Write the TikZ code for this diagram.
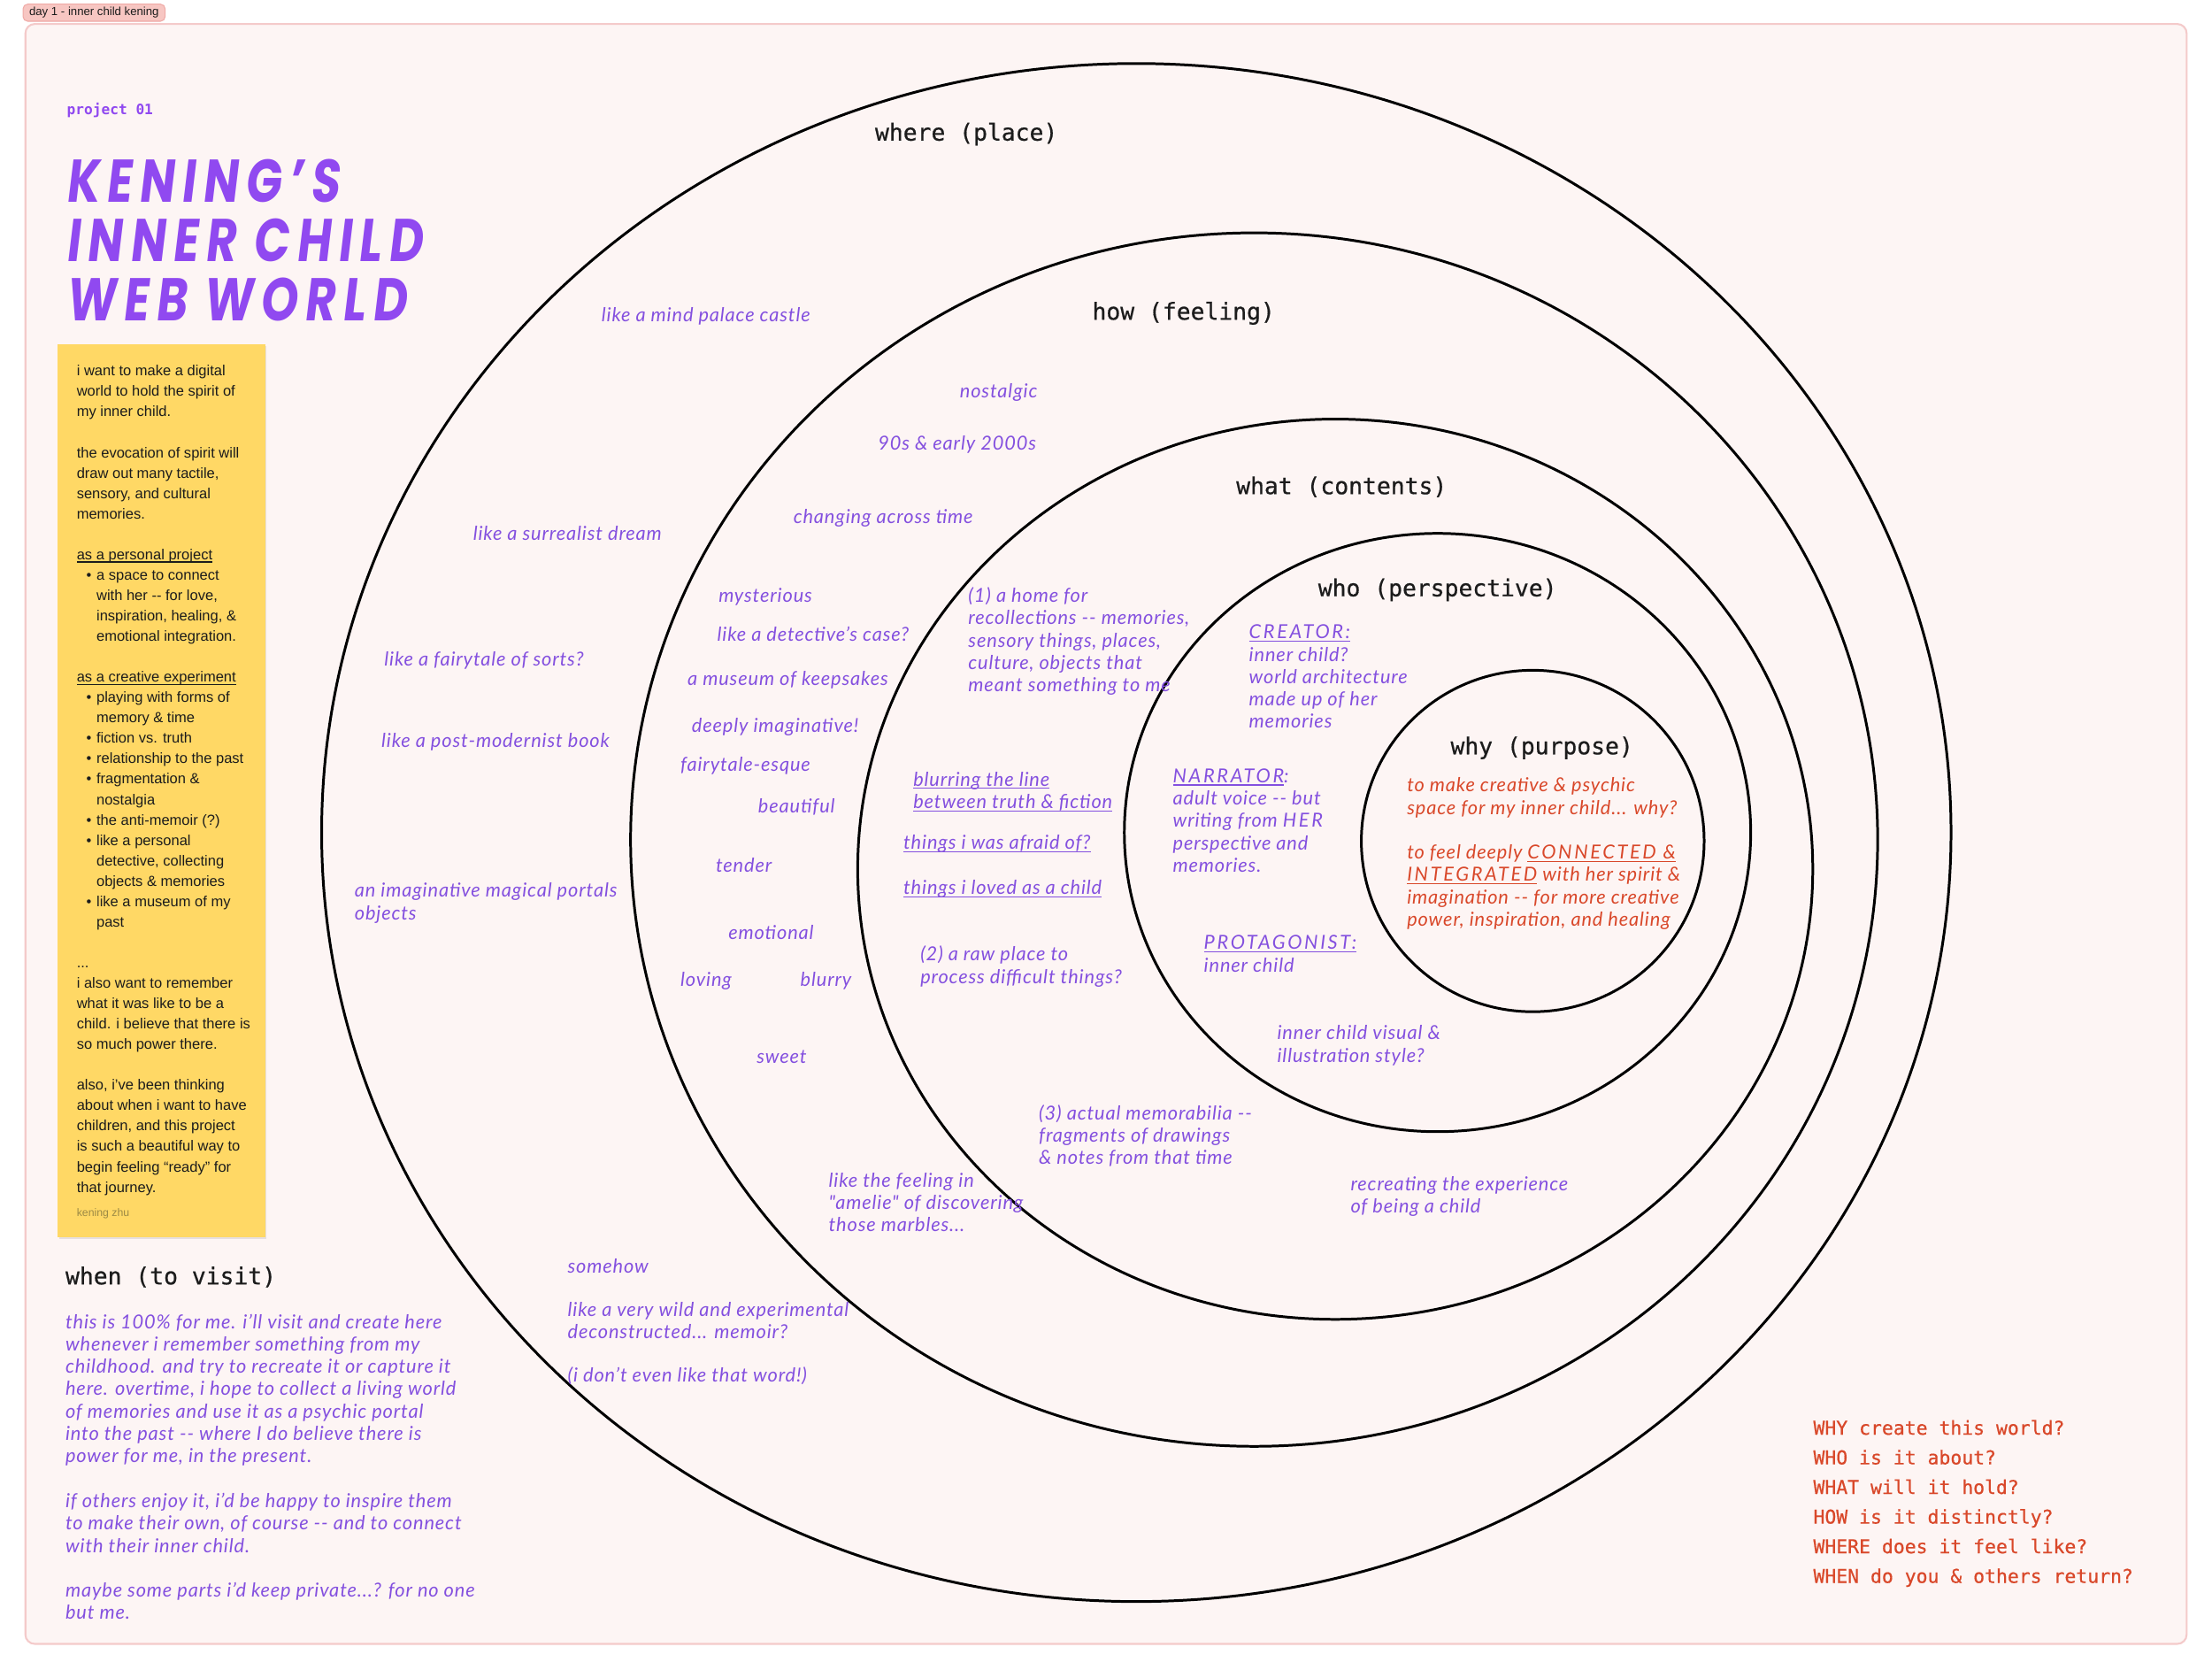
\documentclass[tikz,border=0pt]{standalone}
\usepackage{fontspec}
\usetikzlibrary{shadows}
\setmainfont{Liberation Sans}
\newfontfamily\handf{Lato}[LetterSpace=4]
\newfontfamily\monof{DejaVu Sans Mono}
\newfontfamily\monobf{DejaVu Sans Mono}[FakeBold=0.6]
\newfontfamily\titlef{Poppins}[FakeStretch=0.78, FakeSlant=0.12, LetterSpace=12]
\definecolor{bgc}{HTML}{FDF5F4}
\definecolor{framec}{HTML}{F4CACA}
\definecolor{tagc}{HTML}{F7C6C2}
\definecolor{tagb}{HTML}{EFAAA6}
\definecolor{stickyc}{HTML}{FFD865}
\definecolor{purp}{HTML}{8450DF}
\definecolor{titlep}{HTML}{9049F0}
\definecolor{redo}{HTML}{D9482A}
\definecolor{inkc}{HTML}{1C1C1C}
\definecolor{signc}{HTML}{9C8A45}
\newcommand\myul[1]{\setbox0=\hbox{#1}\rlap{\rule[-0.9pt]{\wd0}{0.3pt}}\box0\relax}
\newcommand\caps[1]{{\addfontfeature{LetterSpace=12}#1}}
\newcommand\bul{\makebox[6.35pt][l]{\hspace*{3.1pt}•}}
\newcommand\cont{\hspace*{6.35pt}}
\tikzset{
  hw/.style={font={\handf\itshape\fontsize{6.2}{7.2}\selectfont}, text=purp, anchor=west, align=left, inner sep=0pt},
  hwr/.style={hw, text=redo},
  head/.style={font={\monobf\fontsize{7.5}{9}\selectfont}, text=inkc, inner sep=0pt},
  ring/.style={line width=0.85pt, draw=black},
}
\begin{document}
\begin{tikzpicture}[x=0.15944mm, y=-0.15944mm]
\useasboundingbox (0,0) rectangle (1568,1183);
\fill[white] (0,0) rectangle (1568,1183);
% tag
\node[fill=tagc, draw=tagb, line width=0.3pt, rounded corners=1.5pt, inner xsep=2pt, inner ysep=1pt, anchor=west, font={\fontsize{3.75}{4.5}\selectfont}, text=inkc] (tag) at (16,9) {day 1 - inner child kening};
% frame
\draw[draw=framec, fill=bgc, line width=0.6pt, rounded corners=3pt] (18,17) rectangle (1550,1165);
% rings
\draw[ring] (805.5,590) ellipse [x radius=577.5, y radius=545];
\draw[ring] (889,595) ellipse [x radius=442, y radius=430];
\draw[ring] (946.5,616) ellipse [x radius=338.5, y radius=319];
\draw[ring] (1019,590) ellipse [x radius=222, y radius=212];
\draw[ring] (1086.5,596) ellipse [x radius=121.5, y radius=121];
% headings
\node[head] (hwhere) at (685,95) {where (place)};
\node[head] (hhow) at (839,222) {how (feeling)};
\node[head] (hwhat) at (951,345) {what (contents)};
\node[head] (hwho) at (1019,418) {who (perspective)};
\node[head] (hwhy) at (1093,530) {why (purpose)};
\node[head, anchor=west] (hwhen) at (46,905) {when (to visit)};
% project + title
\node[anchor=west, inner sep=0pt, text=titlep, font={\monof\bfseries\fontsize{4.6}{5.5}\selectfont}] (proj) at (47,78) {project 01};
\node[anchor=west, align=left, inner sep=0pt, text=titlep, font={\titlef\bfseries\fontsize{19.4}{19.06}\selectfont}] (title) at (46,170) {KENING’S\\INNER CHILD\\WEB WORLD};
% sticky note
\fill[stickyc, drop shadow={opacity=0.18, shadow xshift=0.4pt, shadow yshift=-0.6pt}] (41,244) rectangle (188,877);
\node[anchor=west, align=left, inner sep=0pt, text=inkc, font={\fontsize{4.7}{6.56}\selectfont}] (sticky) at (54,553) {i want to make a digital\\
world to hold the spirit of\\
my inner child.\\[6.56pt]
the evocation of spirit will\\
draw out many tactile,\\
sensory, and cultural\\
memories.\\[6.56pt]
\myul{as a personal project}\\
\bul a space to connect\\
\cont with her -{}- for love,\\
\cont inspiration, healing, \&\\
\cont emotional integration.\\[6.56pt]
\myul{as a creative experiment}\\
\bul playing with forms of\\
\cont memory \& time\\
\bul fiction vs. truth\\
\bul relationship to the past\\
\bul fragmentation \&\\
\cont nostalgia\\
\bul the anti-memoir (?)\\
\bul like a personal\\
\cont detective, collecting\\
\cont objects \& memories\\
\bul like a museum of my\\
\cont past\\[6.56pt]
...\\
i also want to remember\\
what it was like to be a\\
child. i believe that there is\\
so much power there.\\[6.56pt]
also, i’ve been thinking\\
about when i want to have\\
children, and this project\\
is such a beautiful way to\\
begin feeling “ready” for\\
that journey.};
\node[anchor=west, inner sep=0pt, text=signc, font={\fontsize{3.5}{4.2}\selectfont}] (sign) at (54,860) {kening zhu};
% when paragraph
\node[hw] (whentxt) at (46,1039.5) {this is 100\% for me. i’ll visit and create here\\
whenever i remember something from my\\
childhood. and try to recreate it or capture it\\
here. overtime, i hope to collect a living world\\
of memories and use it as a psychic portal\\
into the past -{}- where I do believe there is\\
power for me, in the present.\\[7.2pt]
if others enjoy it, i’d be happy to inspire them\\
to make their own, of course -{}- and to connect\\
with their inner child.\\[7.2pt]
maybe some parts i’d keep private...? for no one\\
but me.};
% questions
\node[anchor=west, align=left, inner sep=0pt, text=redo, font={\monobf\fontsize{6.1}{9.53}\selectfont}] (quest) at (1285,1065.5) {WHY create this world?\\
WHO is it about?\\
WHAT will it hold?\\
HOW is it distinctly?\\
WHERE does it feel like?\\
WHEN do you \& others return?};
% where ring
\node[hw] (w1) at (426,224) {like a mind palace castle};
\node[hw] (w2) at (335,378) {like a surrealist dream};
\node[hw] (w3) at (272,468) {like a fairytale of sorts?};
\node[hw] (w4) at (270,526) {like a post-modernist book};
\node[hw] (w5) at (251,640) {an imaginative magical portals\\objects};
\node[hw] (w6) at (402,897) {somehow};
\node[hw] (w7) at (402,936) {like a very wild and experimental\\deconstructed... memoir?};
\node[hw] (w8) at (402,975) {(i don’t even like that word!)};
% how ring
\node[hw] (f1) at (680,278) {nostalgic};
\node[hw] (f2) at (622,315) {90s \& early 2000s};
\node[hw] (f3) at (562,367) {changing across time};
\node[hw] (f4) at (509,423) {mysterious};
\node[hw] (f5) at (508,449) {like a detective’s case?};
\node[hw] (f6) at (487,482) {a museum of keepsakes};
\node[hw] (f7) at (490,515) {deeply imaginative!};
\node[hw] (f8) at (482,543) {fairytale-esque};
\node[hw] (f9) at (537,572) {beautiful};
\node[hw] (f10) at (507,613) {tender};
\node[hw] (f11) at (516,661) {emotional};
\node[hw] (f12) at (482,695) {loving};
\node[hw] (f13) at (567,695) {blurry};
\node[hw] (f14) at (536,749) {sweet};
\node[hw] (f15) at (587,852) {like the feeling in\\"amelie" of discovering\\those marbles...};
% what ring
\node[hw] (c1) at (686,454.5) {(1) a home for\\recollections -{}- memories,\\sensory things, places,\\culture, objects that\\meant something to me};
\node[hw] (c2) at (647,561) {\myul{blurring the line}\\\myul{between truth \& fiction}};
\node[hw] (c3) at (640,598) {\myul{things i was afraid of?}};
\node[hw] (c4) at (640,630) {\myul{things i loved as a child}};
\node[hw] (c5) at (652,685) {(2) a raw place to\\process difficult things?};
\node[hw] (c6) at (736,805) {(3) actual memorabilia -{}-\\fragments of drawings\\\& notes from that time};
\node[hw] (c7) at (957,848) {recreating the experience\\of being a child};
% who ring
\node[hw] (p1) at (885,479.5) {\myul{\caps{CREATOR:}}\\inner child?\\world architecture\\made up of her\\memories};
\node[hw] (p2) at (831,581.5) {\myul{\caps{NARRATOR}}\caps{:}\\adult voice -{}- but\\writing from \caps{HER}\\perspective and\\memories.};
\node[hw] (p3) at (853,676) {\myul{\caps{PROTAGONIST:}}\\inner child};
\node[hw] (p4) at (905,741) {inner child visual \&\\illustration style?};
% why ring
\node[hwr] (y1) at (997,605) {to make creative \& psychic\\
space for my inner child... why?\\[7.2pt]
to feel deeply \myul{\caps{CONNECTED \&}}\\
\myul{\caps{INTEGRATED}} with her spirit \&\\
imagination -{}- for more creative\\
power, inspiration, and healing};
\end{tikzpicture}
\end{document}
